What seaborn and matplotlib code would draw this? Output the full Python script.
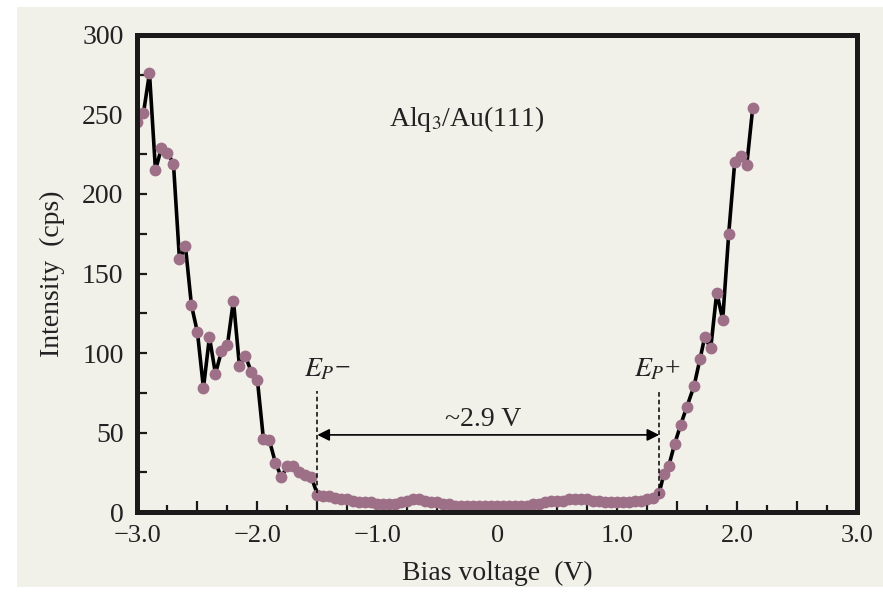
import matplotlib
matplotlib.use("Agg")
import matplotlib.pyplot as plt
import matplotlib.patches as mpatches
import pandas as pd
import seaborn as sns

# values
bias_v = [-3.00, -2.95, -2.90, -2.85, -2.80, -2.75, -2.70, -2.65, -2.60, -2.55,
          -2.50, -2.45, -2.40, -2.35, -2.30, -2.25, -2.20, -2.15, -2.10, -2.05,
          -2.00, -1.95, -1.90, -1.85, -1.80, -1.75, -1.70, -1.65, -1.60, -1.55,
          -1.50, -1.45, -1.40, -1.35, -1.30, -1.25, -1.20, -1.15, -1.10, -1.05,
          -1.00, -0.95, -0.90, -0.85, -0.80, -0.75, -0.70, -0.65, -0.60, -0.55,
          -0.50, -0.45, -0.40, -0.35, -0.30, -0.25, -0.20, -0.15, -0.10, -0.05,
          0.00, 0.05, 0.10, 0.15, 0.20, 0.25, 0.30, 0.35, 0.40, 0.45,
          0.50, 0.55, 0.60, 0.65, 0.70, 0.75, 0.80, 0.85, 0.90, 0.95,
          1.00, 1.05, 1.10, 1.15, 1.20, 1.25, 1.30, 1.35, 1.39, 1.43,
          1.48, 1.53, 1.58, 1.64, 1.69, 1.73, 1.78, 1.83, 1.88, 1.93,
          1.98, 2.03, 2.08, 2.13]
intensity = [245, 251, 276, 215, 229, 226, 219, 159, 167, 130,
             113, 78, 110, 87, 101, 105, 133, 92, 98, 88,
             83, 46, 45, 31, 22, 29, 29, 25, 23, 22,
             11, 10, 10, 9, 8, 8, 7, 6, 6, 6,
             5, 5, 5, 5, 6, 7, 8, 8, 7, 6,
             6, 5, 5, 4, 4, 4, 4, 4, 4, 4,
             4, 4, 4, 4, 4, 4, 5, 5, 6, 7,
             7, 7, 8, 8, 8, 8, 7, 7, 6, 6,
             6, 6, 6, 7, 7, 8, 9, 12, 24, 29,
             43, 55, 66, 79, 96, 110, 103, 138, 121, 175,
             220, 224, 218, 254]

x_major = [-3.0, -2.5, -2.0, -1.5, -1.0, -0.5, 0.0, 0.5, 1.0, 1.5, 2.0, 2.5, 3.0]
x_major_labels = ["\u22123.0", "", "\u22122.0", "", "\u22121.0", "", "0", "", "1.0", "", "2.0", "", "3.0"]
x_minor = [-2.75, -2.25, -1.75, -1.25, -0.75, -0.25, 0.25, 0.75, 1.25, 1.75, 2.25, 2.75]
y_ticks = [0, 50, 100, 150, 200, 250, 300]
y_minor = [25, 75, 125, 175, 225, 275]

ep_minus = -1.50
ep_plus = 1.35

df = pd.DataFrame({"bias": bias_v, "intensity": intensity})

sns.set_theme(style="ticks")
plt.rcParams["font.family"] = ["Liberation Serif", "DejaVu Serif"]
plt.rcParams["mathtext.fontset"] = "stix"

beige = "#f1f0e9"
ink = "#222222"
fig = plt.figure(figsize=(8.83, 5.92), dpi=100, facecolor="white")
fig.patches.append(mpatches.Rectangle((0.019, 0.008), 0.981, 0.98, transform=fig.transFigure,
                                      facecolor=beige, edgecolor="none", zorder=-10))
ax = fig.add_axes([0.1557, 0.1351, 0.8149, 0.8058])
ax.set_facecolor(beige)

sns.lineplot(data=df, x="bias", y="intensity", ax=ax, color="black", linewidth=2.6,
             marker="o", markersize=8.5, markerfacecolor="#9d7088", markeredgewidth=0,
             sort=False)

ax.set_xlim(-3.0, 3.0)
ax.set_ylim(0, 300)
ax.set_xticks(x_major)
ax.set_xticklabels(x_major_labels)
ax.set_xticks(x_minor, minor=True)
ax.set_yticks(y_ticks)
ax.set_yticklabels([str(v) for v in y_ticks])
ax.set_yticks(y_minor, minor=True)

ax.tick_params(axis="both", which="both", direction="in", width=1.6, color="#1a1a1a",
               labelsize=20, labelcolor=ink)
ax.tick_params(axis="x", which="major", length=8, pad=9, labelsize=19)
ax.tick_params(axis="x", which="minor", length=5)
ax.tick_params(axis="y", which="both", length=7, pad=10)

for s in ax.spines.values():
    s.set_linewidth(3.6)
    s.set_color("#1a1a1a")

ax.set_xlabel("Bias voltage  (V)", fontsize=20, color=ink, labelpad=10)
ax.set_ylabel("Intensity  (cps)", fontsize=20, color=ink, labelpad=12)

# onset markers and gap arrow
ax.plot([ep_minus, ep_minus], [12, 76], color="black", lw=1.1, ls=(0, (3, 2)))
ax.plot([ep_plus, ep_plus], [10, 76], color="black", lw=1.1, ls=(0, (3, 2)))
ax.annotate("", xy=(ep_minus, 48.5), xytext=(ep_plus, 48.5),
            arrowprops=dict(arrowstyle="<|-|>", color="black", lw=1.2, mutation_scale=18,
                            shrinkA=0, shrinkB=0))
ax.text(-0.12, 58, "~2.9 V", fontsize=20, ha="center", va="center", color=ink)
ax.text(-1.61, 85, "$E_{P}$\u2212", fontsize=20, ha="left", va="baseline", color=ink)
ax.text(1.14, 85, "$E_{P}$+", fontsize=20, ha="left", va="baseline", color=ink)
ax.text(-0.905, 243, "Alq$_3$/Au(111)", fontsize=20, ha="left", va="baseline", color=ink)

fig.savefig("out.png", dpi=100, facecolor=fig.get_facecolor())
